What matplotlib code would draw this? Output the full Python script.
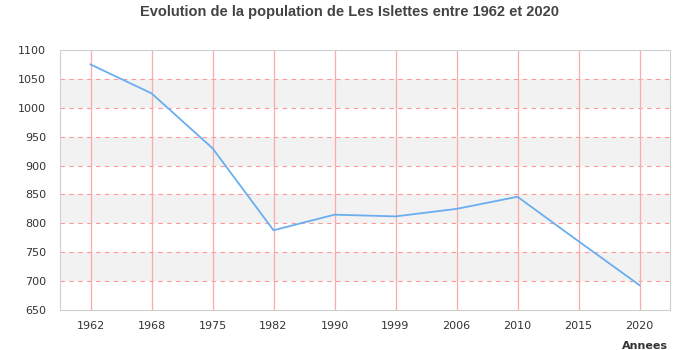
import matplotlib
matplotlib.use("Agg")
import matplotlib.pyplot as plt

years = ["1962", "1968", "1975", "1982", "1990", "1999", "2006", "2010", "2015", "2020"]
population = [1075, 1025, 930, 788, 815, 812, 825, 846, 769, 693]
yticks = [650, 700, 750, 800, 850, 900, 950, 1000, 1050, 1100]

fig = plt.figure(figsize=(7, 3.5), dpi=100)
ax = fig.add_axes([60/700, 40/350, 610/700, 260/350])

x = list(range(len(years)))
ax.set_xlim(-0.5, len(years) - 0.5)
ax.set_ylim(650, 1100)

for lo in [700, 800, 900, 1000]:
    ax.axhspan(lo, lo + 50, color="#f2f2f2", zorder=0, lw=0)
for yv in yticks[1:-1]:
    ax.axhline(yv, color="#ff9999", lw=0.8, ls=(0, (4, 4)), zorder=1)
for xv in x:
    ax.axvline(xv, color="#ffaaaa", lw=0.9, zorder=1)

ax.plot(x, population, color="#6aaef0", lw=1.3, zorder=3)

ax.set_xticks(x)
ax.set_xticklabels(years)
ax.set_yticks(yticks)
ax.tick_params(axis="both", length=0, labelsize=8, colors="#333333")
ax.tick_params(axis="x", pad=8)
ax.tick_params(axis="y", pad=10)
for s in ax.spines.values():
    s.set_color("#d0d0d0")

fig.text(0.5, 1 - 12/350, "Evolution de la population de Les Islettes entre 1962 et 2020",
         ha="center", va="center", fontsize=10.5, fontweight="bold", color="#444444",
         family="Liberation Sans")
fig.text(668/700, 1 - 346/350, "Annees", ha="right", va="center",
         fontsize=8, fontweight="bold", color="#333333")

fig.savefig("out.png", dpi=100)
